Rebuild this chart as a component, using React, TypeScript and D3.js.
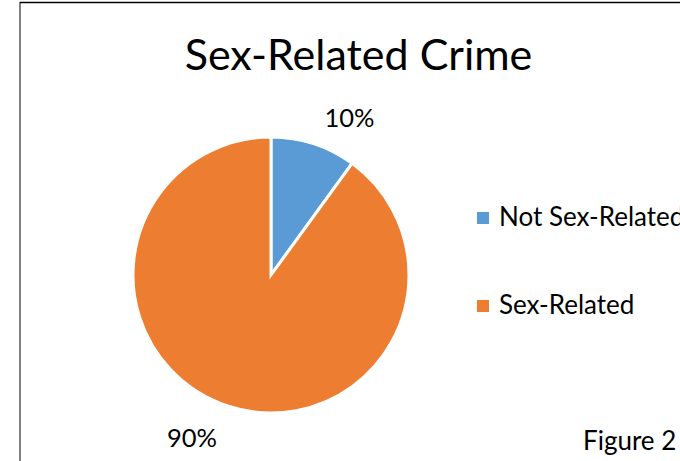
import React from "react";
import * as d3 from "d3";

const categories = ["Not Sex-Related", "Sex-Related"];
const values = [10, 90];
const labels = ["10%", "90%"];
const colors = ["#5B9BD5", "#ED7D31"];

export default function App() {
  const W = 680, H = 461;
  const cx = 271, cy = 275, r = 138;
  const pie = d3.pie<number>().sort(null).value((d) => d);
  const arcs = pie(values);
  const arc = d3.arc<d3.PieArcDatum<number>>().innerRadius(0).outerRadius(r);
  const font = "Lato, 'Open Sans', sans-serif";
  return (
    <svg width={W} height={H} style={{ position: "absolute", left: 0, top: 0 }} fontFamily={font}>
      <rect x={0} y={0} width={W} height={H} fill="#fff" />
      <line x1={20} y1={2.5} x2={W} y2={2.5} stroke="#000" strokeWidth={1.5} />
      <line x1={20} y1={2} x2={20} y2={H} stroke="#000" strokeWidth={1} />
      <text x={358.5} y={70} textAnchor="middle" fontSize={43} fill="#000">Sex-Related Crime</text>
      <g transform={`translate(${cx},${cy})`}>
        {arcs.map((a, i) => (
          <path key={i} d={arc(a) || ""} fill={colors[i]} stroke="#fff" strokeWidth={3} />
        ))}
      </g>
      <text x={349.5} y={127} textAnchor="middle" fontSize={25.5} fill="#000">{labels[0]}</text>
      <text x={192} y={447} textAnchor="middle" fontSize={25.5} fill="#000">{labels[1]}</text>
      {categories.map((c, i) => (
        <g key={c} transform={`translate(477,${212 + i * 88})`}>
          <rect x={0} y={0} width={12} height={12} fill={colors[i]} />
          <text x={22} y={14} fontSize={26} fill="#000">{c}</text>
        </g>
      ))}
      <text x={583} y={450} fontSize={26} fill="#000">Figure 2</text>
    </svg>
  );
}
